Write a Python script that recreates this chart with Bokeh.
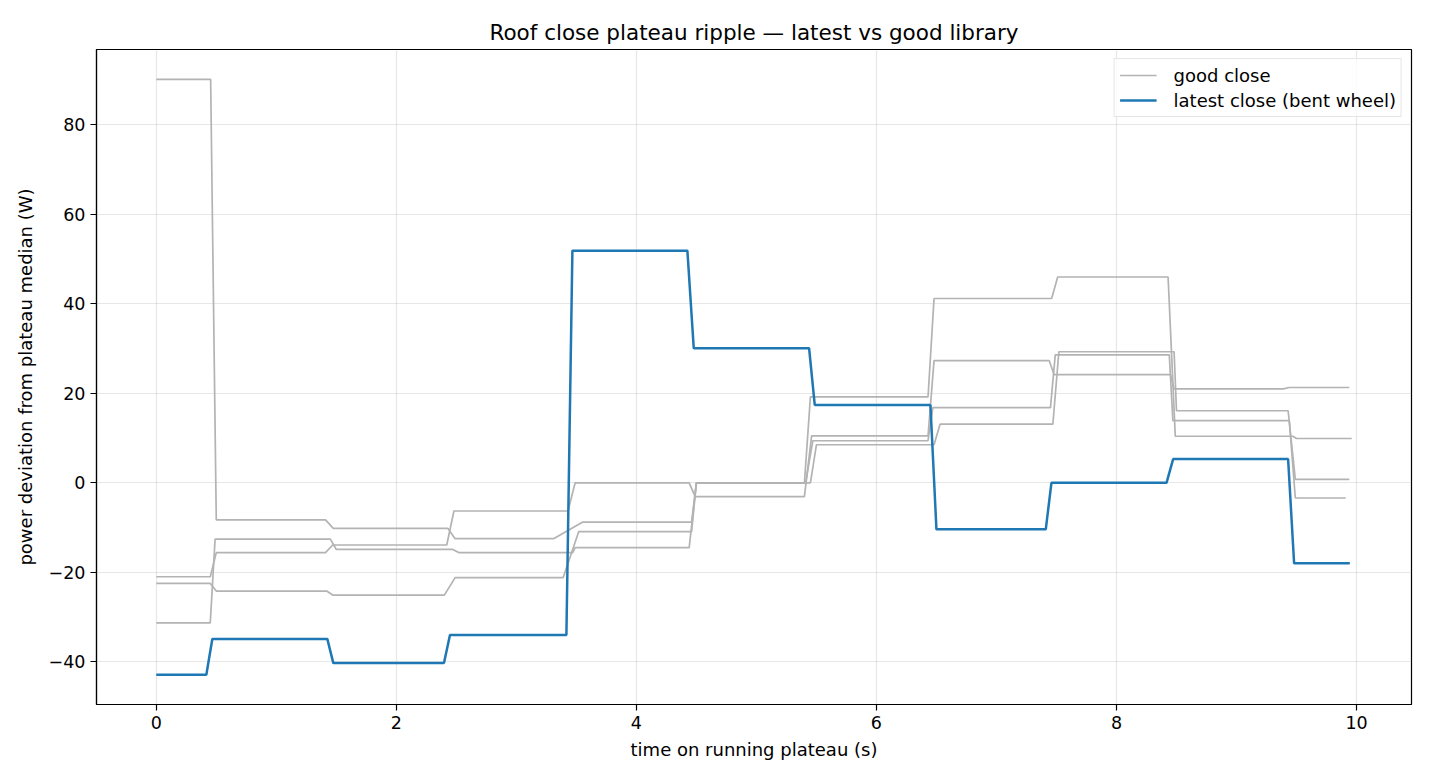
from bokeh.plotting import figure
from bokeh.models import FixedTicker, CustomJSTickFormatter, Range1d, Legend, LegendItem
from bokeh.embed import file_html
from bokeh.resources import INLINE

# ---- data ----
good_a_t = [0, 0.453, 0.50, 1.41, 1.475, 2.43, 2.49, 3.31, 3.55, 4.46, 4.50, 5.40, 5.45, 6.43, 6.48, 7.46, 7.51, 8.43, 8.49, 9.47, 9.50, 9.96]
good_a_v = [90.2, 90.2, -8.3, -8.3, -10.2, -10.2, -12.5, -12.5, -8.8, -8.8, 0.0, 0.0, 19.2, 19.2, 41.2, 41.2, 46.0, 46.0, 10.4, 10.4, 9.9, 9.9]

good_b_t = [0, 0.45, 0.50, 1.41, 1.47, 2.42, 2.48, 3.43, 3.49, 4.44, 4.49, 5.40, 5.46, 6.43, 6.48, 7.44, 7.48, 8.45, 8.48, 9.39, 9.44, 9.94]
good_b_v = [-21.0, -21.0, -15.6, -15.6, -13.9, -13.9, -6.3, -6.3, 0.0, 0.0, -3.1, -3.1, 10.5, 10.5, 27.3, 27.3, 24.2, 24.2, 21.0, 21.0, 21.3, 21.3]

good_c_t = [0, 0.45, 0.50, 1.42, 1.47, 2.40, 2.49, 3.39, 3.52, 4.46, 4.50, 5.41, 5.47, 6.43, 6.47, 7.45, 7.49, 8.44, 8.47, 9.44, 9.49, 9.91]
good_c_v = [-22.5, -22.5, -24.2, -24.2, -25.1, -25.1, -21.2, -21.2, -10.9, -10.9, 0.0, 0.0, 9.4, 9.4, 16.8, 16.8, 28.6, 28.6, 13.9, 13.9, -3.4, -3.4]

good_d_t = [0, 0.45, 0.49, 1.45, 1.50, 2.47, 2.52, 3.47, 3.49, 4.44, 4.50, 5.45, 5.50, 6.48, 6.53, 7.47, 7.52, 8.48, 8.50, 9.43, 9.49, 9.94]
good_d_v = [-31.3, -31.3, -12.6, -12.6, -14.9, -14.9, -15.6, -15.6, -14.5, -14.5, 0.0, 0.0, 8.5, 8.5, 13.1, 13.1, 29.3, 29.3, 16.1, 16.1, 0.75, 0.75]

latest_t = [0, 0.417, 0.467, 1.425, 1.475, 2.397, 2.447, 3.417, 3.467, 4.425, 4.478, 5.439, 5.486, 6.45, 6.50, 7.411, 7.458, 8.417, 8.472, 9.43, 9.48, 9.944]
latest_v = [-42.9, -42.9, -34.9, -34.9, -40.3, -40.3, -34.0, -34.0, 51.9, 51.9, 30.1, 30.1, 17.4, 17.4, -10.4, -10.4, 0.0, 0.0, 5.3, 5.3, -18.0, -18.0]

x_ticks = [0, 2, 4, 6, 8, 10]
y_ticks = [-40, -20, 0, 20, 40, 60, 80]

title_text = "Roof close plateau ripple \u2014 latest vs good library"
x_label = "time on running plateau (s)"
y_label = "power deviation from plateau median (W)"
good_label = "good close"
latest_label = "latest close (bent wheel)"

FONT = "DejaVu Sans"
GRAY = "#b3b3b3"
BLUE = "#1f77b4"

p = figure(width=1414, height=764, output_backend="svg", toolbar_location=None,
           x_range=Range1d(-0.498, 10.458), y_range=Range1d(-49.56, 96.86),
           min_border_left=96, min_border_right=3, min_border_top=49, min_border_bottom=60)
p.background_fill_color = "white"
p.border_fill_color = "white"
p.outline_line_color = "black"
p.outline_line_width = 1.2

p.title.text = title_text
p.title.align = "center"
p.title.text_font = FONT
p.title.text_font_size = "21.5px"
p.title.text_font_style = "normal"
p.title.text_color = "black"
p.title.standoff = 10

for ax in (p.xaxis[0], p.yaxis[0]):
    ax.axis_line_color = "black"
    ax.axis_line_width = 1.2
    ax.major_tick_line_color = "black"
    ax.major_tick_line_width = 1.2
    ax.major_tick_out = 6
    ax.major_tick_in = 0
    ax.minor_tick_line_color = None
    ax.major_label_text_font = FONT
    ax.major_label_text_font_size = "17.5px"
    ax.major_label_text_color = "black"
    ax.axis_label_text_font = FONT
    ax.axis_label_text_font_size = "18px"
    ax.axis_label_text_font_style = "normal"
    ax.axis_label_text_color = "black"
    ax.formatter = CustomJSTickFormatter(code="return tick < 0 ? '\\u2212' + Math.abs(tick) : String(tick);")

p.xaxis[0].ticker = FixedTicker(ticks=x_ticks)
p.yaxis[0].ticker = FixedTicker(ticks=y_ticks)
p.xaxis[0].axis_label = x_label
p.yaxis[0].axis_label = y_label
p.xaxis[0].major_label_standoff = 5
p.yaxis[0].major_label_standoff = 5
p.xaxis[0].axis_label_standoff = 7
p.yaxis[0].axis_label_standoff = 10

p.grid.grid_line_color = "#b0b0b0"
p.grid.grid_line_alpha = 0.3
p.grid.grid_line_width = 1.2
p.xgrid.ticker = FixedTicker(ticks=x_ticks)
p.ygrid.ticker = FixedTicker(ticks=y_ticks)

good_renderers = []
for t, v in ((good_a_t, good_a_v), (good_b_t, good_b_v), (good_c_t, good_c_v), (good_d_t, good_d_v)):
    good_renderers.append(p.line(t, v, line_color=GRAY, line_width=1.7))
latest_r = p.line(latest_t, latest_v, line_color=BLUE, line_width=2.5)

legend = Legend(items=[LegendItem(label=good_label, renderers=[good_renderers[0]]),
                       LegendItem(label=latest_label, renderers=[latest_r])],
                location="top_right")
legend.margin = 9
legend.padding = 5
legend.spacing = 3
legend.glyph_width = 37
legend.glyph_height = 22
legend.label_height = 22
legend.label_standoff = 17
legend.label_text_font = FONT
legend.label_text_font_size = "18px"
legend.label_text_color = "black"
legend.border_line_color = "#cccccc"
legend.border_line_width = 1.2
legend.background_fill_color = "white"
legend.background_fill_alpha = 0.8
p.add_layout(legend)

open("out.html", "w").write(file_html(p, INLINE))
